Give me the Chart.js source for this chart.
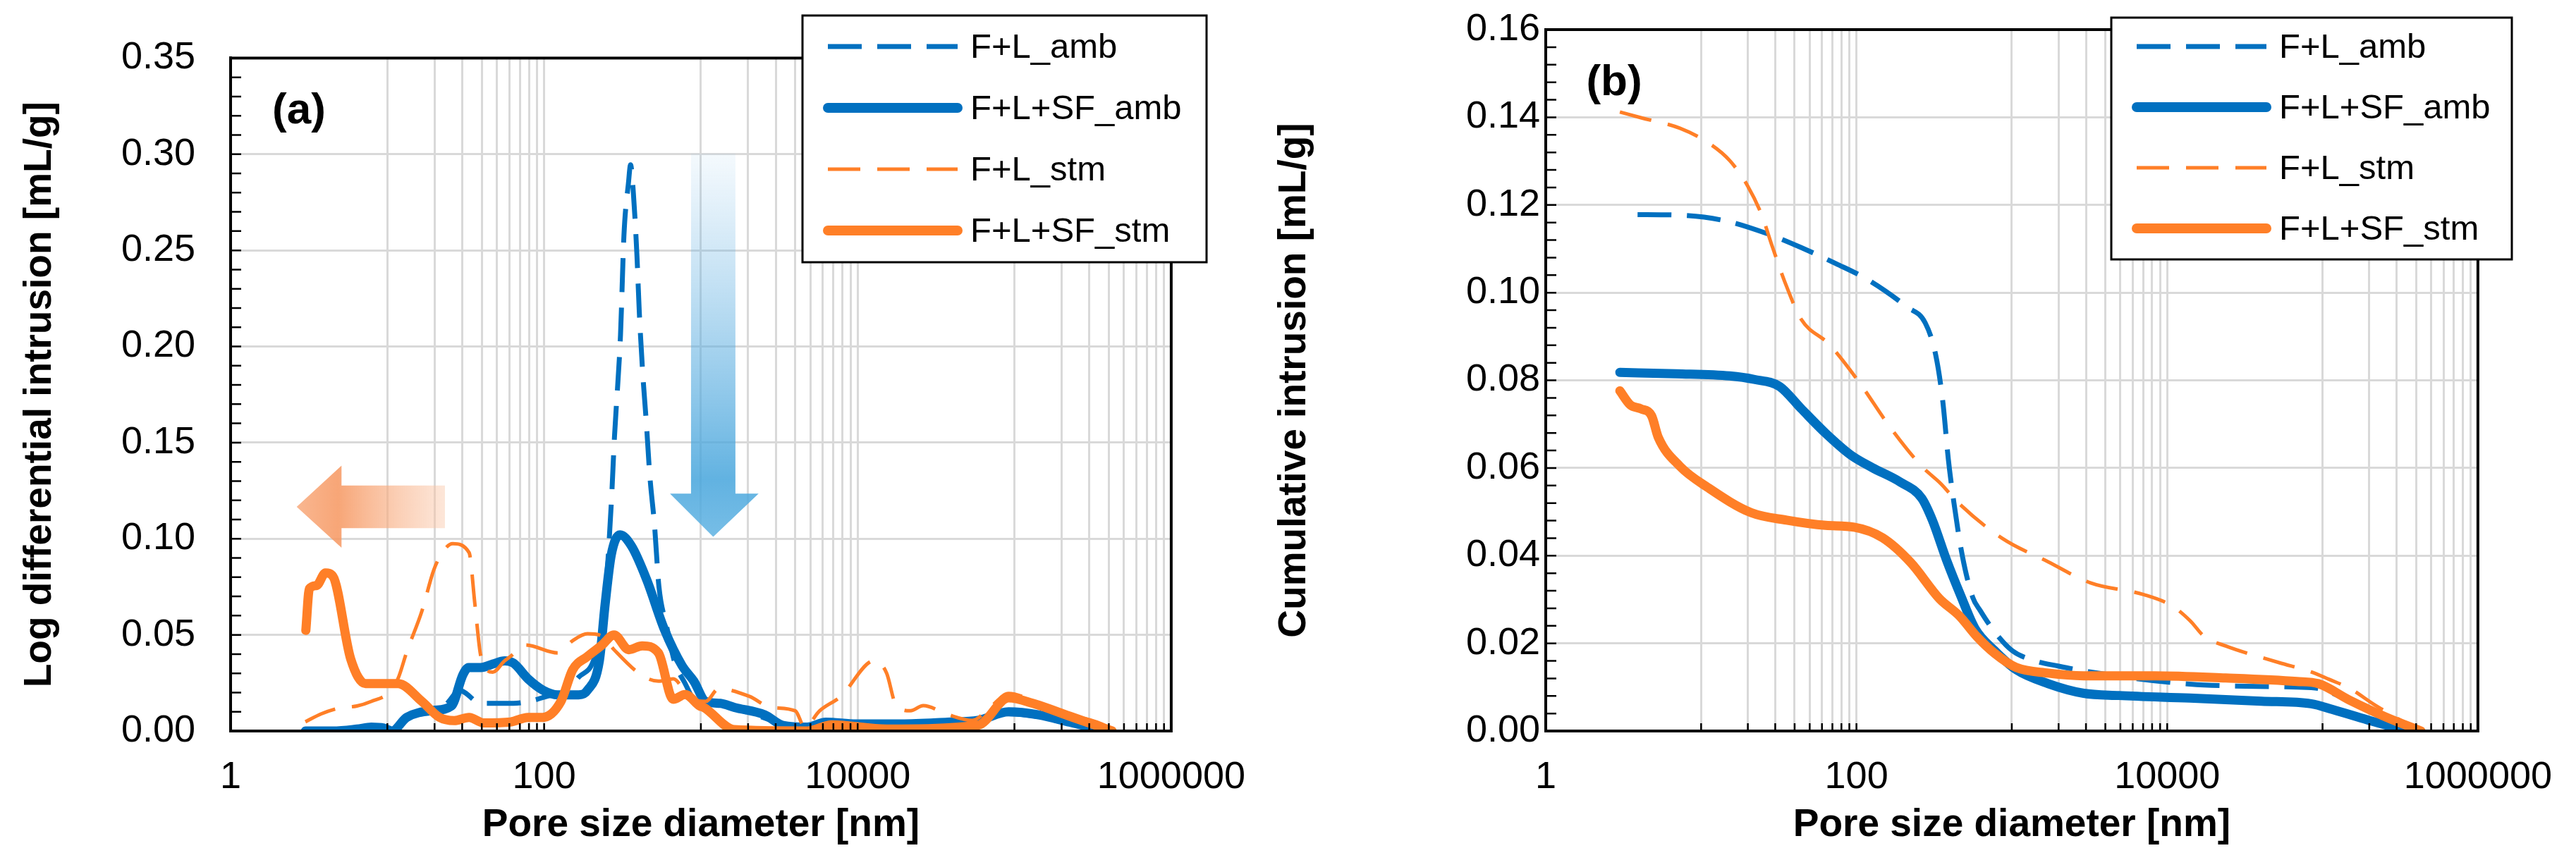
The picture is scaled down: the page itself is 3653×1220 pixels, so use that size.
<!DOCTYPE html>
<html>
<head>
<meta charset="utf-8">
<script src="https://cdn.jsdelivr.net/npm/chart.js@4.4.1/dist/chart.umd.min.js"></script>
<style>
  html, body { margin: 0; padding: 0; background: #fff; }
  #wrap { position: relative; width: 3653px; height: 1220px; }
  canvas { position: absolute; top: 0; }
  #chartA { left: 0; }
  #chartB { left: 1800px; }
</style>
</head>
<body>
<div id="wrap">
  <canvas id="chartA" width="1800" height="1220"></canvas>
  <canvas id="chartB" width="1853" height="1220"></canvas>
</div>
<script>
// labelled decades on the pore size axis (Excel log base 100)
const poreLabels = [1, 100, 10000, 1000000];
const diffTicks = [0.00, 0.05, 0.10, 0.15, 0.20, 0.25, 0.30, 0.35];
const cumTicks = [0.00, 0.02, 0.04, 0.06, 0.08, 0.10, 0.12, 0.14, 0.16];
const seriesNames = ['F+L_amb', 'F+L+SF_amb', 'F+L_stm', 'F+L+SF_stm'];

// (a) log differential intrusion [mL/g] vs pore size [nm]
const diffAmbX = [3, 5, 8, 10, 11.2, 15.2, 23.4, 29, 39.5, 63.7, 86.5, 110, 134, 166, 206, 240, 268, 281, 307, 323, 345, 356,
  371, 391, 404, 426, 449, 472, 506, 540, 603, 676, 790, 930, 1200, 1600, 2500, 3500, 5000, 8000, 15000, 30000, 60000,
  90000, 130000, 220000, 350000, 420000];
const diffAmbY = [0.000, 0.000, 0.0005, 0.001, 0.004, 0.0095, 0.0136, 0.021, 0.0144, 0.0144, 0.0161, 0.0185, 0.0197, 0.028,
  0.0365, 0.060, 0.118, 0.153, 0.206, 0.258, 0.285, 0.2945, 0.2797, 0.247, 0.219, 0.1855, 0.160, 0.133, 0.107, 0.075, 0.055,
  0.0365, 0.025, 0.0154, 0.0144, 0.012, 0.007, 0.003, 0.002, 0.003, 0.003, 0.004, 0.005, 0.009, 0.008, 0.004, 0.001, 0.000];

const diffAmbSfX = [3, 4.5, 6.4, 7.9, 9.5, 10.7, 13.3, 19.7, 25.6, 30.4, 33, 39.5, 47, 56, 63.7, 79, 98.5, 122, 166, 189, 225,
  245, 268, 305, 362, 451, 585, 758, 902, 1072, 1330, 1632, 2550, 3340, 4775, 6260, 9800, 19000, 37500, 58600, 91800,
  143000, 225000, 350000, 410000];
const diffAmbSfY = [0.000, 0.000, 0.001, 0.002, 0.0015, 0.000, 0.0071, 0.0107, 0.013, 0.0294, 0.033, 0.033, 0.0348, 0.0365,
  0.0353, 0.0271, 0.0212, 0.0188, 0.0188, 0.0212, 0.0365, 0.066, 0.0916, 0.102, 0.096, 0.0787, 0.0528, 0.034, 0.0259,
  0.0154, 0.0144, 0.0123, 0.0084, 0.0029, 0.002, 0.0046, 0.0037, 0.0037, 0.0046, 0.0055, 0.010, 0.0084, 0.0046, 0.001, 0.000];

const diffStmX = [3, 3.78, 4.9, 6.4, 7.9, 10.3, 11.7, 13.3, 16.6, 19.7, 22.4, 26.1, 33.2, 36.2, 39.5, 47, 56, 61, 76, 122, 152,
  189, 234, 279, 413, 536, 666, 863, 1072, 1300, 2040, 2800, 4000, 4590, 5720, 7800, 12800, 15300, 17400, 21700, 26200,
  37500, 53800, 70000, 91800, 143000, 225000, 385000, 420000];
const diffStmY = [0.0048, 0.0089, 0.0119, 0.013, 0.0154, 0.0202, 0.0273, 0.0412, 0.0623, 0.0834, 0.0928, 0.0974, 0.0928,
  0.0657, 0.0388, 0.0306, 0.0365, 0.0388, 0.0447, 0.0406, 0.047, 0.0506, 0.0494, 0.0423, 0.0294, 0.0259, 0.0271, 0.0165,
  0.0154, 0.022, 0.018, 0.0123, 0.0105, 0.002, 0.0105, 0.018, 0.0366, 0.0301, 0.0143, 0.0105, 0.0132, 0.0086, 0.0055,
  0.0123, 0.0195, 0.0144, 0.0086, 0.0025, 0.000];

const diffStmSfX = [3.02, 3.18, 3.54, 4.03, 4.5, 5.83, 7.25, 11.7, 16.6, 21.5, 26.7, 33.2, 41.2, 61, 79, 98, 128, 152, 189, 234,
  279, 347, 422, 536, 666, 792, 985, 1042, 1632, 4775, 6840, 15300, 58600, 91800, 131000, 225000, 420000];
const diffStmSfY = [0.0523, 0.074, 0.0757, 0.0822, 0.0804, 0.0376, 0.0247, 0.0247, 0.0154, 0.0071, 0.0054, 0.0071, 0.0042,
  0.0047, 0.0071, 0.0071, 0.0154, 0.0318, 0.0388, 0.0447, 0.050, 0.0423, 0.0443, 0.0406, 0.0165, 0.019, 0.013, 0.0123,
  0.0007, 0.000, 0.0032, 0.001, 0.003, 0.0172, 0.0144, 0.0077, 0.000];

// (b) cumulative intrusion [mL/g] vs pore size [nm]
const cumAmbX = [3.9, 6.9, 13.8, 25.9, 43.9, 74, 119, 212, 277, 324, 360, 390, 423, 480, 560, 628, 776, 1009, 1383, 2000, 2900,
  14000, 68400, 93800, 150000, 255000, 400000];
const cumAmbY = [0.1178, 0.1177, 0.1165, 0.1136, 0.1103, 0.1066, 0.1029, 0.0967, 0.0931, 0.0857, 0.0750, 0.0621, 0.0523,
  0.0400, 0.0305, 0.0274, 0.0226, 0.0183, 0.0161, 0.0148, 0.0137, 0.0107, 0.0100, 0.0097, 0.0068, 0.0030, 0.000];

const cumAmbSfX = [3, 6.9, 15.3, 22, 32, 43.9, 63.4, 91.6, 126, 191, 263, 308, 380, 470, 579, 776, 1065, 1713, 2900, 4900,
  14000, 40400, 84400, 116000, 196000, 355000];
const cumAmbSfY = [0.0818, 0.0815, 0.0810, 0.0802, 0.0786, 0.0736, 0.0679, 0.0630, 0.0601, 0.0568, 0.0531, 0.0481, 0.0390,
  0.0308, 0.0234, 0.0183, 0.0140, 0.0108, 0.0086, 0.0081, 0.0075, 0.0068, 0.0062, 0.0049, 0.0025, 0.000];

const cumStmX = [3, 4.1, 7.3, 11.1, 15.3, 19.9, 24.5, 28.8, 35.5, 43.9, 66.8, 102, 164, 263, 352, 445, 863, 1713, 3210, 7090,
  10800, 14000, 17400, 23800, 52500, 84400, 110000, 150000, 218000, 420000];
const cumStmY = [0.1412, 0.1399, 0.1375, 0.1342, 0.1301, 0.1244, 0.1178, 0.1104, 0.1014, 0.094, 0.0882, 0.080, 0.0694,
  0.0604, 0.0563, 0.0523, 0.0440, 0.0386, 0.0338, 0.0311, 0.0285, 0.0252, 0.0215, 0.0194, 0.0156, 0.0135, 0.0118, 0.0097,
  0.0059, 0.000];

const cumStmSfX = [3, 3.5, 4.1, 4.8, 5.3, 7.3, 11.1, 21, 35.5, 63.4, 96.6, 147, 224, 342, 459, 597, 776, 1065, 1713, 2900, 8300,
  23800, 68400, 93800, 150000, 255000, 430000];
const cumStmSfY = [0.0776, 0.0744, 0.0735, 0.0719, 0.0670, 0.0604, 0.0555, 0.0498, 0.0481, 0.0469, 0.0465, 0.0441, 0.0384,
  0.0302, 0.0263, 0.0215, 0.0177, 0.0145, 0.0132, 0.0126, 0.0126, 0.0121, 0.0113, 0.0108, 0.0070, 0.0032, 0.000];

const BLUE = '#0070C0';
const ORANGE = '#FF7F27';
const lineStyles = [
  { color: BLUE, width: 7, dash: [48, 22], order: 3 },
  { color: BLUE, width: 13, dash: [], order: 2 },
  { color: ORANGE, width: 5, dash: [46, 24], order: 1 },
  { color: ORANGE, width: 13, dash: [], order: 0 }
];

Chart.defaults.font.family = '"Liberation Sans", Arial, sans-serif';
Chart.defaults.color = '#000';

// minor gridlines: 10a..90a between labelled decades a and 100a
const xGrid = [];
poreLabels.forEach((a, i) => {
  xGrid.push(a);
  if (i < poreLabels.length - 1) {
    for (let k = 1; k <= 9; k++) xGrid.push(a * 10 * k);
  }
});

function toPoints(xs, ys) {
  return xs.map((x, i) => ({ x: x, y: ys[i] }));
}

function makeDatasets(series) {
  return series.map((s, i) => ({
    label: seriesNames[i],
    data: toPoints(s[0], s[1]),
    borderColor: lineStyles[i].color,
    borderWidth: lineStyles[i].width,
    borderDash: lineStyles[i].dash,
    borderCapStyle: lineStyles[i].dash.length ? 'butt' : 'round',
    borderJoinStyle: 'round',
    order: lineStyles[i].order,
    pointRadius: 0,
    fill: false,
    cubicInterpolationMode: 'monotone'
  }));
}

// box round the plot plus Excel style inside tick marks
const frame = {
  id: 'frame',
  afterDatasetsDraw(chart, args, opts) {
    const { ctx, chartArea: a, scales: { x, y } } = chart;
    ctx.save();
    ctx.strokeStyle = '#000';
    ctx.lineWidth = 2.5;
    ctx.beginPath();
    xGrid.forEach(v => {
      const px = x.getPixelForValue(v);
      ctx.moveTo(px, a.bottom);
      ctx.lineTo(px, a.bottom - 11);
    });
    const top = y.max;
    for (let i = 0; i * opts.yMinor <= top + 1e-9; i++) {
      const py = y.getPixelForValue(i * opts.yMinor);
      ctx.moveTo(a.left, py);
      ctx.lineTo(a.left + 15, py);
    }
    ctx.stroke();
    ctx.lineWidth = 4;
    ctx.strokeRect(a.left, a.top, a.right - a.left, a.bottom - a.top);
    ctx.font = 'bold 62px "Liberation Sans", Arial, sans-serif';
    ctx.fillStyle = '#000';
    ctx.textAlign = 'center';
    ctx.textBaseline = 'middle';
    ctx.fillText(opts.tag, a.left + 97, a.top + 76);
    ctx.restore();
  }
};

const boxLegend = {
  id: 'boxLegend',
  afterDraw(chart, args, o) {
    const ctx = chart.ctx;
    ctx.save();
    ctx.fillStyle = '#fff';
    ctx.fillRect(o.left, o.top, o.width, o.height);
    ctx.lineWidth = 3;
    ctx.strokeStyle = '#000';
    ctx.strokeRect(o.left, o.top, o.width, o.height);
    chart.data.datasets.forEach((ds, i) => {
      const yy = o.top + o.firstRow + i * o.rowGap;
      ctx.beginPath();
      ctx.strokeStyle = ds.borderColor;
      ctx.lineWidth = ds.borderDash.length ? ds.borderWidth : ds.borderWidth + 1;
      ctx.setLineDash(ds.borderDash);
      ctx.lineCap = ds.borderDash.length ? 'butt' : 'round';
      ctx.moveTo(o.left + 36, yy);
      ctx.lineTo(o.left + 220, yy);
      ctx.stroke();
      ctx.setLineDash([]);
      ctx.fillStyle = '#000';
      ctx.font = '49px "Liberation Sans", Arial, sans-serif';
      ctx.textBaseline = 'middle';
      ctx.fillText(ds.label, o.left + 238, yy + 2);
    });
    ctx.restore();
  }
};

// shaded arrows of panel (a), placed in data units
const arrows = {
  id: 'arrows',
  beforeDatasetsDraw(chart) {
    const { ctx, scales: { x, y } } = chart;
    ctx.save();
    // orange arrow pointing to small pores
    const tip = x.getPixelForValue(2.64), base = x.getPixelForValue(5.1), tail = x.getPixelForValue(23.3);
    const b1 = y.getPixelForValue(0.1277), b2 = y.getPixelForValue(0.1055);
    const h1 = y.getPixelForValue(0.138), h2 = y.getPixelForValue(0.0953);
    const mid = (b1 + b2) / 2;
    let g = ctx.createLinearGradient(tip, 0, tail, 0);
    g.addColorStop(0, 'rgba(248,170,125,0.85)');
    g.addColorStop(0.28, 'rgba(246,150,95,0.85)');
    g.addColorStop(1, 'rgba(250,200,170,0.45)');
    ctx.fillStyle = g;
    ctx.beginPath();
    ctx.moveTo(tip, mid);
    ctx.lineTo(base, h1);
    ctx.lineTo(base, b1);
    ctx.lineTo(tail, b1);
    ctx.lineTo(tail, b2);
    ctx.lineTo(base, b2);
    ctx.lineTo(base, h2);
    ctx.closePath();
    ctx.fill();
    // blue arrow pointing down
    const l = x.getPixelForValue(865), r = x.getPixelForValue(1660);
    const hl = x.getPixelForValue(635), hr = x.getPixelForValue(2333);
    const cx = (l + r) / 2;
    const t = y.getPixelForValue(0.3004), hb = y.getPixelForValue(0.1235), tp = y.getPixelForValue(0.101);
    g = ctx.createLinearGradient(0, t, 0, tp);
    g.addColorStop(0, 'rgba(120,185,230,0.08)');
    g.addColorStop(0.85, 'rgba(70,165,220,0.85)');
    g.addColorStop(1, 'rgba(95,178,226,0.85)');
    ctx.fillStyle = g;
    ctx.beginPath();
    ctx.moveTo(l, t);
    ctx.lineTo(r, t);
    ctx.lineTo(r, hb);
    ctx.lineTo(hr, hb);
    ctx.lineTo(cx, tp);
    ctx.lineTo(hl, hb);
    ctx.lineTo(l, hb);
    ctx.closePath();
    ctx.fill();
    ctx.restore();
  }
};

function makePanel(id, series, yTicks, yTitle, opt) {
  return new Chart(document.getElementById(id), {
    type: 'line',
    data: { datasets: makeDatasets(series) },
    plugins: opt.extra.concat([frame, boxLegend]),
    options: {
      responsive: false,
      animation: false,
      devicePixelRatio: 1,
      layout: { padding: { left: 0, top: 42, right: opt.padRight, bottom: 0 } },
      plugins: {
        legend: { display: false },
        tooltip: { enabled: false },
        frame: { yMinor: opt.yMinor, tag: opt.tag },
        boxLegend: opt.legend
      },
      scales: {
        x: {
          type: 'logarithmic',
          min: poreLabels[0],
          max: poreLabels[poreLabels.length - 1],
          afterBuildTicks(s) { s.ticks = xGrid.map(v => ({ value: v })); },
          afterFit(s) { s.height = 183; },
          ticks: {
            autoSkip: false, maxRotation: 0, minRotation: 0, padding: 34,
            font: { size: 54 }, color: '#000',
            callback: v => poreLabels.includes(v) ? String(v) : ''
          },
          grid: { color: '#D9D9D9', lineWidth: 3, drawTicks: false },
          border: { color: '#000', width: 4 },
          title: {
            display: true, text: 'Pore size diameter [nm]', color: '#000',
            font: { size: 55, weight: 'bold' }, padding: { top: 0, bottom: 16 }
          }
        },
        y: {
          min: yTicks[0],
          max: yTicks[yTicks.length - 1],
          afterBuildTicks(s) { s.ticks = yTicks.map(v => ({ value: v })); },
          afterFit(s) { s.width = opt.yWidth; },
          ticks: {
            padding: opt.yPad, font: { size: 54 }, color: '#000',
            callback: v => v.toFixed(2)
          },
          grid: { color: '#D9D9D9', lineWidth: 3, drawTicks: false },
          border: { color: '#000', width: 4 },
          title: {
            display: true, text: yTitle, color: '#000',
            font: { size: 55, weight: 'bold' }, padding: { top: opt.titlePad, bottom: 0 }
          }
        }
      }
    }
  });
}

makePanel('chartA',
  [[diffAmbX, diffAmbY], [diffAmbSfX, diffAmbSfY], [diffStmX, diffStmY], [diffStmSfX, diffStmSfY]],
  diffTicks, 'Log differential intrusion [mL/g]',
  { extra: [arrows], padRight: 135, yWidth: 327, yPad: 50, titlePad: 24, yMinor: 0.01, tag: '(a)',
    legend: { left: 1138, top: 22, width: 573, height: 350, firstRow: 44, rowGap: 87 } });

makePanel('chartB',
  [[cumAmbX, cumAmbY], [cumAmbSfX, cumAmbSfY], [cumStmX, cumStmY], [cumStmSfX, cumStmSfY]],
  cumTicks, 'Cumulative intrusion [mL/g]',
  { extra: [], padRight: 123, yWidth: 392, yPad: 8, titlePad: 3, yMinor: 0.004, tag: '(b)',
    legend: { left: 1194, top: 25, width: 568, height: 343, firstRow: 41, rowGap: 86 } });
</script>
</body>
</html>
